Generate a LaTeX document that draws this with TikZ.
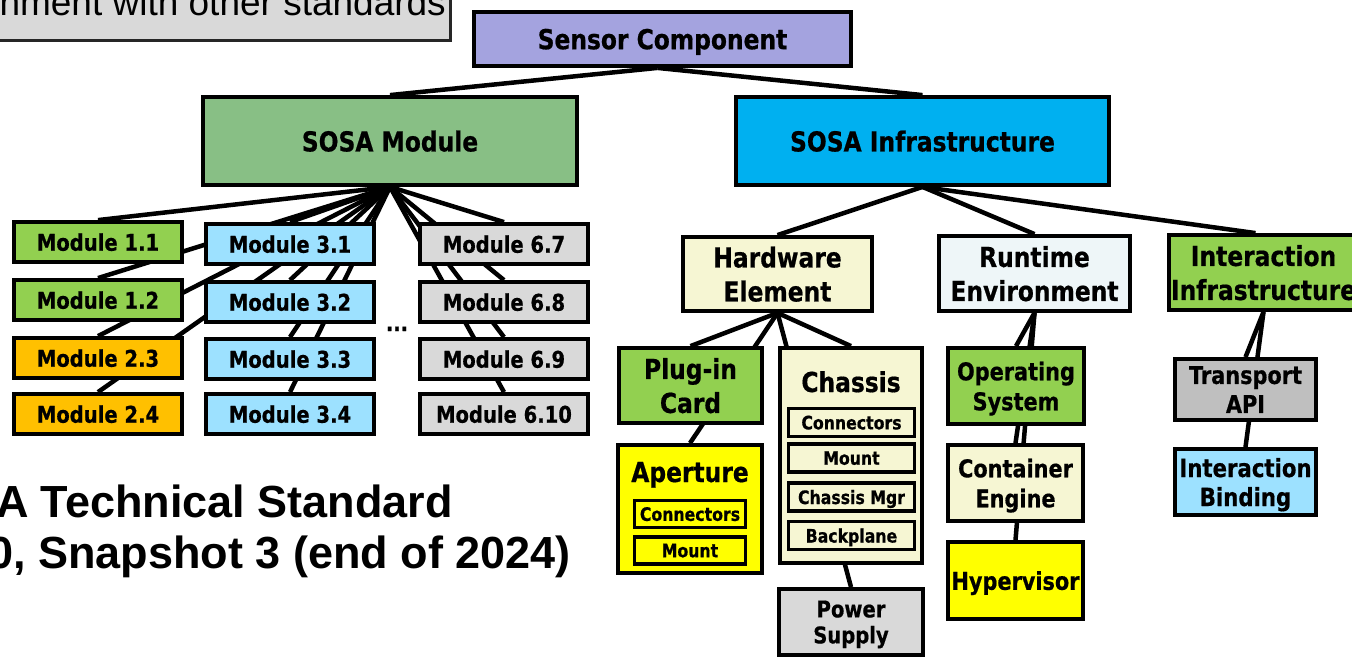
\documentclass[tikz,border=0pt]{standalone}
\usepackage{fontspec}
\newfontfamily\tah{DejaVu Sans}[FakeStretch=0.85, FakeBold=0.6]
\newfontfamily\ari{Liberation Sans}
\usetikzlibrary{backgrounds}
\definecolor{cGrayBox}{HTML}{D9D9D9}
\definecolor{cGrayEdge}{HTML}{262626}
\definecolor{cSensor}{HTML}{A4A3DF}
\definecolor{cSosaM}{HTML}{88BF85}
\definecolor{cSosaI}{HTML}{00B0F0}
\definecolor{cGreen}{HTML}{92D050}
\definecolor{cOrange}{HTML}{FFC000}
\definecolor{cLBlue}{HTML}{9DE1FF}
\definecolor{cLGray}{HTML}{D9D9D9}
\definecolor{cMGray}{HTML}{BFBFBF}
\definecolor{cCream}{HTML}{F6F6D3}
\definecolor{cIce}{HTML}{EEF6F8}
\definecolor{cYellow}{HTML}{FFFF00}
\newcommand\fsz[2]{\fontsize{#1}{#2}\selectfont}
\begin{document}
\begin{tikzpicture}[x=1pt,y=-1pt,
  box/.style={draw=black, line width=3.8pt, inner sep=0pt, align=center, text depth=0pt},
  inbox/.style={draw=black, line width=3.2pt, inner sep=0pt, align=center, text depth=0pt, font=\tah\bfseries\fsz{18.5}{22}},
  big/.style={font=\tah\bfseries\fsz{27.5}{34}},
  mid/.style={font=\tah\bfseries\fsz{24.5}{30}},
  modf/.style={font=\tah\bfseries\fsz{23}{28}},
  modbox/.style={box, modf, minimum width=168pt, minimum height=40pt},
  conn/.style={draw=black, line width=4.5pt},
  slide/.style={font=\ari\bfseries\fsz{45}{52}, inner sep=0pt}
]
\useasboundingbox (0,0) rectangle (1352,658);
\clip (0,0) rectangle (1352,658);

% slide remnants
\node[draw=cGrayEdge, line width=3pt, fill=cGrayBox, minimum width=458pt, minimum height=49pt, inner sep=0pt] (stdbox) at (221,16.5) {};
\node[font=\ari\fsz{37}{44}, inner sep=0pt, anchor=base east] (stdtxt) at (446,15.5) {nment with other standards};
\node[slide, anchor=base east] (title1) at (453,517) {A Technical Standard};
\node[slide, anchor=base east] (title2) at (571,568) {0, Snapshot 3 (end of 2024)};

% top levels
\node[box, big, fill=cSensor, minimum width=377pt, minimum height=54pt] (sensor) at (662.5,39) {Sensor Component};
\node[box, big, fill=cSosaM, minimum width=374pt, minimum height=88pt] (sosam) at (390,141) {SOSA Module};
\node[box, big, fill=cSosaI, minimum width=373pt, minimum height=88pt] (sosai) at (922.5,141) {SOSA Infrastructure};

% modules
\node[modbox, fill=cGreen] (m11) at (98,242) {Module 1.1};
\node[modbox, fill=cGreen] (m12) at (98,300) {Module 1.2};
\node[modbox, fill=cOrange] (m23) at (98,358) {Module 2.3};
\node[modbox, fill=cOrange] (m24) at (98,414) {Module 2.4};
\node[modbox, fill=cLBlue] (m31) at (290,244) {Module 3.1};
\node[modbox, fill=cLBlue] (m32) at (290,302) {Module 3.2};
\node[modbox, fill=cLBlue] (m33) at (290,359) {Module 3.3};
\node[modbox, fill=cLBlue] (m34) at (290,414) {Module 3.4};
\node[modbox, fill=cLGray] (m67) at (504,244) {Module 6.7};
\node[modbox, fill=cLGray] (m68) at (504,302) {Module 6.8};
\node[modbox, fill=cLGray] (m69) at (504,359) {Module 6.9};
\node[modbox, fill=cLGray] (m610) at (504,414) {Module 6.10};
\node[modf, inner sep=0pt, anchor=base] (dots) at (397,331) {...};

% infrastructure
\node[box, big, fill=cCream, minimum width=189pt, minimum height=74pt] (hw) at (777.5,274) {Hardware\\Element};
\node[box, big, fill=cIce, minimum width=191pt, minimum height=75pt] (rt) at (1034.5,273.5) {Runtime\\Environment};
\node[box, big, fill=cGreen, minimum width=189pt, minimum height=75pt] (ii) at (1263.5,272.5) {Interaction\\Infrastructure};

% hardware children
\node[box, big, fill=cGreen, minimum width=143pt, minimum height=75pt] (plug) at (690.5,385.5) {Plug-in\\Card};
\node[box, fill=cCream, minimum width=142pt, minimum height=215pt] (chassis) at (851,455.5) {};
\node[big, inner sep=0pt, anchor=base] (chT) at (851,392) {Chassis};
\node[inbox, fill=cCream, minimum width=126pt, minimum height=28pt] (chconn) at (851.5,422.5) {Connectors};
\node[inbox, fill=cCream, minimum width=126pt, minimum height=28pt] (chmount) at (851.5,458) {Mount};
\node[inbox, fill=cCream, minimum width=126pt, minimum height=28pt] (chmgr) at (851.5,497) {Chassis Mgr};
\node[inbox, fill=cCream, minimum width=126pt, minimum height=28pt] (chback) at (851.5,535.5) {Backplane};
\node[box, fill=cYellow, minimum width=144pt, minimum height=128pt] (ap) at (690,509) {};
\node[big, inner sep=0pt, anchor=base] (apT) at (690,482) {Aperture};
\node[inbox, fill=cYellow, minimum width=111pt, minimum height=27pt] (apconn) at (690,514) {Connectors};
\node[inbox, fill=cYellow, minimum width=111pt, minimum height=27pt] (apmount) at (690,550.5) {Mount};
\node[box, font=\tah\bfseries\fsz{23}{26}, fill=cLGray, minimum width=144pt, minimum height=66pt] (ps) at (851,622) {Power\\Supply};

% runtime children
\node[box, mid, fill=cGreen, minimum width=136pt, minimum height=76pt] (os) at (1016,386) {Operating\\System};
\node[box, mid, fill=cCream, minimum width=135pt, minimum height=76pt] (ce) at (1015.5,483) {Container\\Engine};
\node[box, mid, fill=cYellow, minimum width=135pt, minimum height=77pt] (hv) at (1015.5,580.5) {Hypervisor};

% interaction children
\node[box, font=\tah\bfseries\fsz{24.5}{29}, fill=cMGray, minimum width=141pt, minimum height=61pt] (tapi) at (1245.5,389.5) {Transport\\API};
\node[box, font=\tah\bfseries\fsz{25}{29}, fill=cLBlue, minimum width=141pt, minimum height=66pt] (ib) at (1245.5,482) {Interaction\\Binding};

\begin{scope}[on background layer]
  \draw[conn] ([xshift=-5pt]sensor.south) -- (sosam.north);
  \draw[conn] ([xshift=-5pt]sensor.south) -- (sosai.north);
  \foreach \m in {m11,m12,m23,m24,m31,m32,m33,m34,m67,m68,m69,m610}
    \draw[conn] (sosam.south) -- (\m.north);
  \draw[conn] (sosai.south) -- (hw.north);
  \draw[conn] (sosai.south) -- (rt.north);
  \draw[conn] (sosai.south) -- ([xshift=-8pt]ii.north);
  \draw[conn] (hw.south) -- (plug.north);
  \draw[conn] (hw.south) -- (ap.north);
  \draw[conn] (hw.south) -- (chassis.north);
  \draw[conn] (hw.south) -- (ps.north);
  \draw[conn] (rt.south) -- (os.north);
  \draw[conn] (rt.south) -- (ce.north);
  \draw[conn] (rt.south) -- (hv.north);
  \draw[conn] (ii.south) -- (tapi.north);
  \draw[conn] (ii.south) -- (ib.north);
\end{scope}
\end{tikzpicture}
\end{document}
